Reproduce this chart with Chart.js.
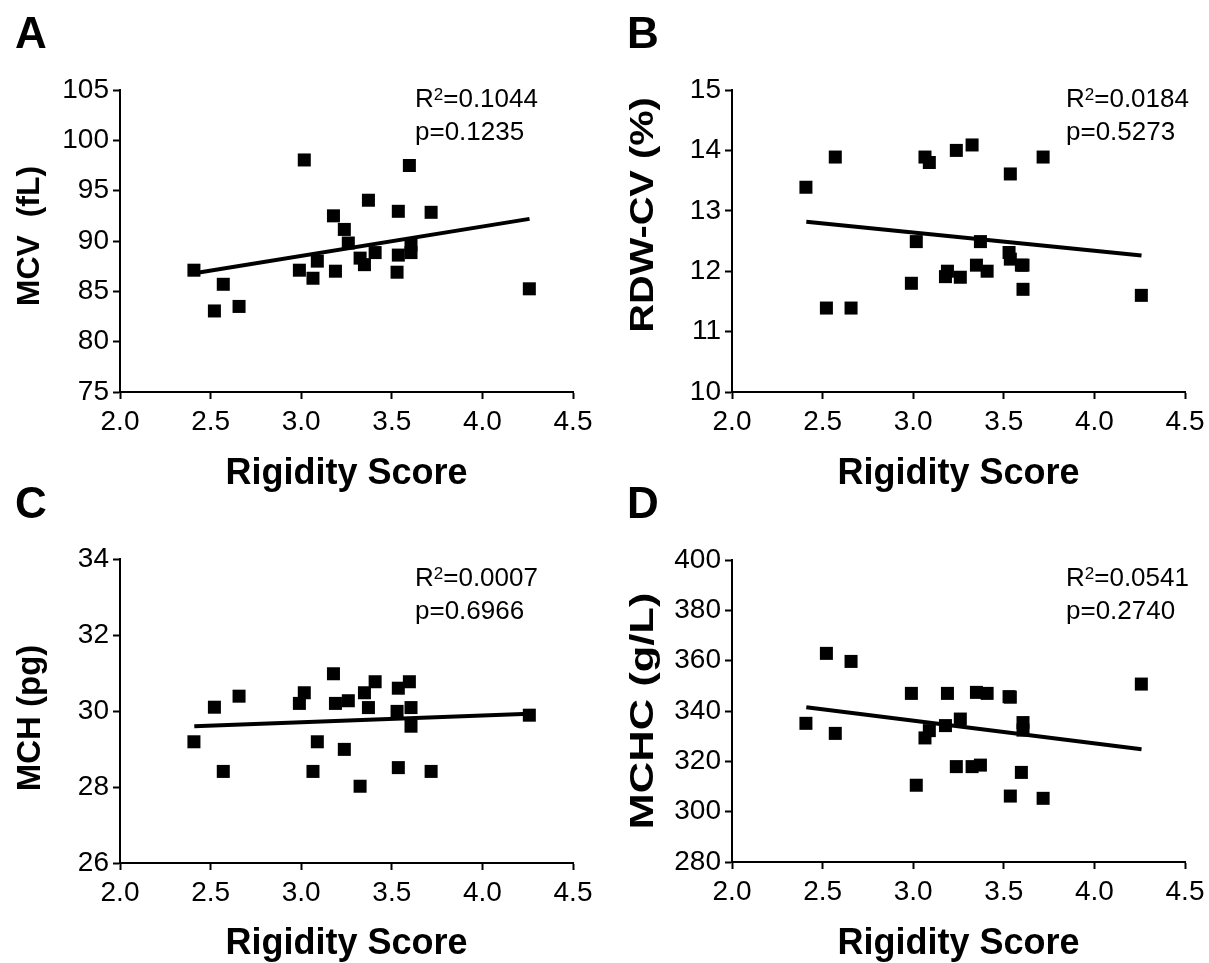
<!DOCTYPE html>
<html>
<head>
<meta charset="utf-8">
<script src="https://cdn.jsdelivr.net/npm/chart.js@4"></script>
<style>
  body { margin: 0; background: #fff; }
  #page { position: relative; width: 1209px; height: 963px; background: #fff; overflow: hidden;
          font-family: "Liberation Sans", Arial, sans-serif; color: #000; }
  canvas { position: absolute; }
  .letter { position: absolute; font-size: 44px; font-weight: bold; line-height: 1; }
  .stats { position: absolute; font-size: 26px; line-height: 33px; white-space: nowrap; }
  .stats sup { font-size: 17px; line-height: 0; vertical-align: 7px; }
  .ytitle { position: absolute; font-weight: bold; white-space: pre; line-height: 1; }
</style>
</head>
<body>
<div id="page">
  <canvas id="chartA" width="604" height="520" style="left:0;top:0"></canvas>
  <canvas id="chartB" width="605" height="520" style="left:604px;top:0"></canvas>
  <canvas id="chartC" width="604" height="483" style="left:0;top:480px"></canvas>
  <canvas id="chartD" width="605" height="483" style="left:604px;top:480px"></canvas>

  <div class="letter" style="left:15px;top:11px">A</div>
  <div class="letter" style="left:627px;top:11px">B</div>
  <div class="letter" style="left:15px;top:481px">C</div>
  <div class="letter" style="left:627px;top:481px">D</div>

  <div class="ytitle" style="left:28px;top:236px;font-size:32px;transform:translate(-50%,-50%) rotate(-90deg)">MCV  (fL)</div>
  <div class="ytitle" style="left:641px;top:215px;font-size:34px;transform:translate(-50%,-50%) rotate(-90deg) scaleX(1.17)">RDW-CV (%)</div>
  <div class="ytitle" style="left:28px;top:718px;font-size:33px;transform:translate(-50%,-50%) rotate(-90deg)">MCH (pg)</div>
  <div class="ytitle" style="left:641px;top:711px;font-size:34px;transform:translate(-50%,-50%) rotate(-90deg) scaleX(1.28)">MCHC (g/L)</div>

  <div class="stats" style="left:415px;top:82px">R<sup>2</sup>=0.1044<br>p=0.1235</div>
  <div class="stats" style="left:1066px;top:82px">R<sup>2</sup>=0.0184<br>p=0.5273</div>
  <div class="stats" style="left:415px;top:561px">R<sup>2</sup>=0.0007<br>p=0.6966</div>
  <div class="stats" style="left:1066px;top:561px">R<sup>2</sup>=0.0541<br>p=0.2740</div>
</div>

<script>
// rigidity score of each subject (same order in every panel)
const rigidity = [2.408, 2.521, 2.570, 2.657, 2.990, 3.017, 3.065, 3.089, 3.178, 3.189, 3.238, 3.260,
                  3.325, 3.349, 3.371, 3.408, 3.529, 3.536, 3.536, 3.597, 3.606, 3.606, 3.717, 4.259];

const mcv  = [87.1, 83.05, 85.7, 83.5, 87.1, 98.05, 86.3, 88.0, 92.5, 87.0, 91.15, 89.8,
              88.3, 87.65, 94.05, 88.85, 86.9, 92.95, 88.6, 97.5, 89.6, 88.85, 92.85, 85.25];
const rdw  = [13.39, 11.39, 13.89, 11.39, 11.80, 12.49, 13.89, 13.80, 11.91, 12.00, 14.00, 11.90,
              14.09, 12.10, 12.49, 12.00, 12.31, 13.61, 12.20, 12.10, 12.10, 11.70, 13.89, 11.60];
const mch  = [29.19, 30.10, 28.41, 30.39, 30.20, 30.48, 28.41, 29.19, 30.98, 30.20, 28.99, 30.27,
              28.02, 30.48, 30.09, 30.77, 29.99, 30.60, 28.51, 30.77, 30.09, 29.60, 28.41, 29.89];
const mchc = [335.1, 362.9, 331.1, 359.7, 347.0, 310.5, 329.3, 332.2, 334.2, 347.0, 317.9, 336.8,
              317.9, 347.4, 318.5, 347.0, 345.7, 345.5, 306.2, 315.6, 335.4, 332.4, 305.3, 350.7];

// regression line ends
const fitX    = [2.41, 4.26];
const mcvFit  = [86.8, 92.2];
const rdwFit  = [12.82, 12.26];
const mchFit  = [29.60, 29.93];
const mchcFit = [341.5, 324.8];

const xTicks = [2.0, 2.5, 3.0, 3.5, 4.0, 4.5];

const FONT = "'Liberation Sans', Arial, sans-serif";
Chart.defaults.color = '#000';
Chart.defaults.font.family = FONT;

function makePanel(id, yVals, fitY, yAxis, box) {
    const pts = rigidity.map((x, i) => ({ x: x, y: yVals[i] }));
    const line = fitX.map((x, i) => ({ x: x, y: fitY[i] }));
    return new Chart(document.getElementById(id), {
        type: 'scatter',
        data: {
            datasets: [{
                data: pts,
                pointStyle: 'rect',
                pointRadius: 9.2,
                pointHoverRadius: 9.2,
                backgroundColor: '#000',
                borderWidth: 0
            }, {
                type: 'line',
                data: line,
                borderColor: '#000',
                borderWidth: 4,
                pointRadius: 0,
                fill: false
            }]
        },
        options: {
            responsive: false,
            animation: false,
            events: [],
            layout: { padding: { left: 0, top: box.top, right: box.right, bottom: 0 } },
            plugins: { legend: { display: false }, tooltip: { enabled: false } },
            scales: {
                x: {
                    type: 'linear',
                    min: 2, max: 4.5,
                    afterBuildTicks: (s) => { s.ticks = xTicks.map(v => ({ value: v })); },
                    afterFit: (s) => { s.height = box.xH; s.paddingLeft = 0; s.paddingRight = 0; },
                    ticks: { callback: (v) => v.toFixed(1), font: { size: 28 }, padding: 6, maxRotation: 0 },
                    grid: { drawOnChartArea: false, drawTicks: true, tickLength: 7, tickColor: '#000', tickWidth: 2 },
                    border: { display: true, color: '#000', width: 2 },
                    title: {
                        display: true, text: 'Rigidity Score',
                        font: { size: 36, weight: 'bold', lineHeight: 1 },
                        padding: { top: 0, bottom: box.xTitlePad }
                    }
                },
                y: {
                    type: 'linear',
                    min: yAxis.min, max: yAxis.max,
                    afterBuildTicks: (s) => { s.ticks = yAxis.ticks.map(v => ({ value: v })); },
                    afterFit: (s) => { s.width = box.yW; s.paddingTop = 0; s.paddingBottom = 0; },
                    ticks: { font: { size: 28 }, padding: 4 },
                    grid: { drawOnChartArea: false, drawTicks: true, tickLength: 7, tickColor: '#000', tickWidth: 2 },
                    border: { display: true, color: '#000', width: 2 },
                    title: { display: false }
                }
            }
        }
    });
}

makePanel('chartA', mcv, mcvFit,
    { min: 75, max: 105, ticks: [75, 80, 85, 90, 95, 100, 105] },
    { top: 90, right: 31, xH: 128, yW: 120, xTitlePad: 28 });

makePanel('chartB', rdw, rdwFit,
    { min: 10, max: 15, ticks: [10, 11, 12, 13, 14, 15] },
    { top: 90, right: 24, xH: 128, yW: 128, xTitlePad: 28 });

makePanel('chartC', mch, mchFit,
    { min: 26, max: 34, ticks: [26, 28, 30, 32, 34] },
    { top: 79, right: 31, xH: 100, yW: 120, xTitlePad: 1 });

makePanel('chartD', mchc, mchcFit,
    { min: 280, max: 400, ticks: [280, 300, 320, 340, 360, 380, 400] },
    { top: 80, right: 24, xH: 101, yW: 128, xTitlePad: 1 });
</script>
</body>
</html>
